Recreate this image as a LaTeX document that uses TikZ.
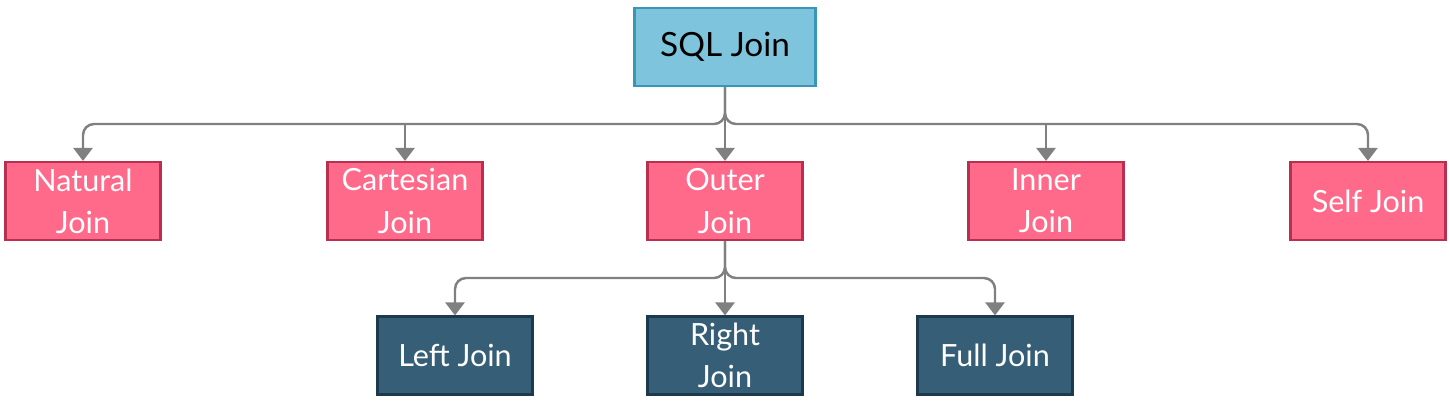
\documentclass[tikz,border=0pt]{standalone}
\usepackage{fontspec}
\setmainfont{Lato}
\usetikzlibrary{arrows.meta}
\definecolor{rootfill}{HTML}{7EC4DC}
\definecolor{rootline}{HTML}{3A96B8}
\definecolor{joinfill}{HTML}{FF6A8B}
\definecolor{joinline}{HTML}{B8304F}
\definecolor{subfill}{HTML}{365F77}
\definecolor{subline}{HTML}{1C3A4E}
\definecolor{link}{HTML}{808080}
\tikzset{>={Triangle[width=0.38cm,length=0.26cm]}}
\tikzset{
	box/.style={draw, line width=1.2pt, minimum height=1.56cm, minimum width=3.1cm, align=center, inner sep=0pt, font=\fontsize{17.4}{24}\selectfont},
	rootbox/.style={box, fill=rootfill, draw=rootline, minimum width=3.62cm, text=black, font=\fontsize{19}{24}\selectfont},
	joinbox/.style={box, fill=joinfill, draw=joinline, text=white},
	subbox/.style={box, fill=subfill, draw=subline, text=white},
	link/.style={->, draw=link, line width=1.4pt, rounded corners=0.22cm}
}
\begin{document}
\begin{tikzpicture}
	\useasboundingbox (0,0) rectangle (29,-8.04);
	% top
	\node [rootbox] (sql) at (14.5,-0.94) {SQL Join};
	% second row
	\node [joinbox] (natural) at (1.66,-4.02) {Natural\\Join};
	\node [joinbox] (cartesian) at (8.10,-4.02) {Cartesian\\Join};
	\node [joinbox] (outer) at (14.5,-4.02) {Outer\\Join};
	\node [joinbox] (inner) at (20.92,-4.02) {Inner\\Join};
	\node [joinbox] (self) at (27.36,-4.02) {Self Join};
	% third row
	\node [subbox] (left) at (9.10,-7.11) {Left Join};
	\node [subbox] (right) at (14.5,-7.11) {Right\\Join};
	\node [subbox] (full) at (19.90,-7.11) {Full Join};
	% links
	\coordinate (bus) at (14.5,-2.48);
	\coordinate (subbus) at (14.5,-5.56);
	\foreach \n in {natural,self}
		\draw [link] (sql.south) -- (bus) -| (\n.north);
	\foreach \n in {cartesian,inner}
		\draw [link] (\n.north |- bus) -- (\n.north);
	\draw [link] (sql.south) -- (outer.north);
	\foreach \n in {left,full}
		\draw [link] (outer.south) -- (subbus) -| (\n.north);
	\draw [link] (outer.south) -- (right.north);
\end{tikzpicture}
\end{document}
